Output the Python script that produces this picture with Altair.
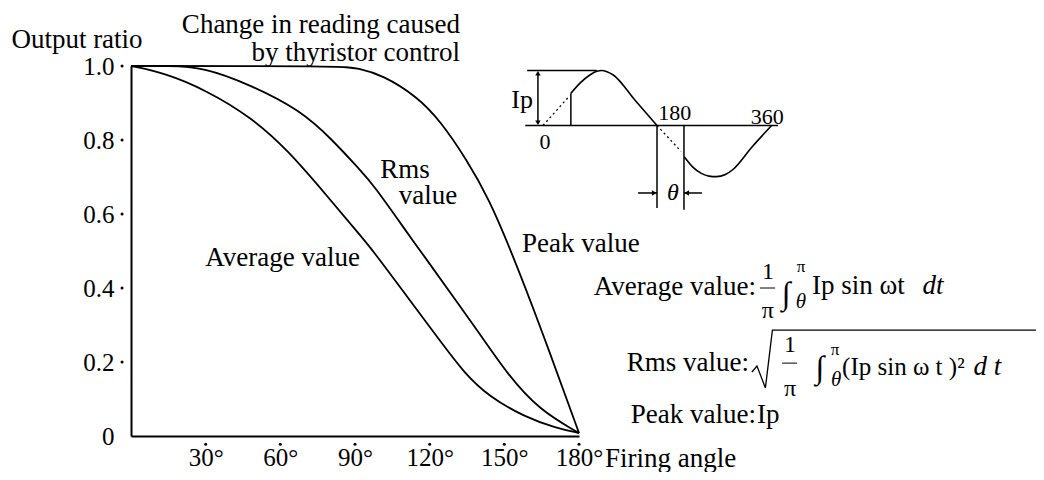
import altair as alt
import pandas as pd

FONT = "Liberation Serif"

# ---- main curves: firing angle (deg) -> output ratio ----
avg_deg = [0, 14, 30, 48, 63, 79, 92, 97, 111, 124, 134, 144, 158, 171, 180]
avg_val = [1.0, 0.98, 0.935, 0.863, 0.773, 0.647, 0.543, 0.503, 0.376, 0.259, 0.169, 0.106, 0.052, 0.021, 0.008]
rms_deg = [0, 15, 29, 48, 68, 81, 92, 97, 113, 116, 140, 151, 164, 180]
rms_val = [1.0, 1.0, 0.997, 0.949, 0.881, 0.80, 0.719, 0.683, 0.53, 0.503, 0.278, 0.169, 0.07, 0.008]
peak_deg = [0, 85, 91, 101, 115, 124, 135, 144, 152, 164, 180]
peak_val = [1.0, 1.0, 0.994, 0.976, 0.917, 0.854, 0.746, 0.638, 0.512, 0.305, 0.008]

x_ticks = [30, 60, 90, 120, 150, 180]
y_ticks = [0, 0.2, 0.4, 0.6, 0.8, 1.0]
y_dot_ticks = [0.2, 0.4, 0.6, 0.8, 1.0]

# ---- inset waveform (degrees, amplitude / Ip) ----
pos_deg = [44, 58, 74, 85, 93, 101, 111, 145, 180]
pos_amp = [0.585, 0.767, 0.918, 0.985, 1.0, 0.978, 0.918, 0.464, 0.0]
neg_deg = [223, 237, 250, 262, 274, 288, 300, 330, 361]
neg_amp = [-0.567, -0.76, -0.87, -0.92, -0.93, -0.89, -0.8, -0.39, 0.0]

curves = pd.concat([
    pd.DataFrame({"x": avg_deg, "y": avg_val, "s": "Average value"}),
    pd.DataFrame({"x": rms_deg, "y": rms_val, "s": "Rms value"}),
    pd.DataFrame({"x": peak_deg, "y": peak_val, "s": "Peak value"}),
])

x_axis = alt.Axis(values=x_ticks, labelExpr="datum.value + '°'", title=None, grid=False,
                  ticks=False, domainColor="black", domainWidth=2, labelFont=FONT,
                  labelFontSize=25, labelColor="black", labelPadding=9, labelFlush=False)
y_axis = alt.Axis(values=y_ticks,
                  labelExpr="datum.value == 0 ? '0' : format(datum.value, '.1f')",
                  title=None, grid=False, ticks=False, domainColor="black", domainWidth=2,
                  labelFont=FONT, labelFontSize=25, labelColor="black", labelPadding=17,
                  labelFlush=False)

curve_layer = alt.Chart(curves).mark_line(color="black", strokeWidth=1.8, interpolate="basis").encode(
    x=alt.X("x:Q", scale=alt.Scale(domain=[0, 180], nice=False, zero=False), axis=x_axis),
    y=alt.Y("y:Q", scale=alt.Scale(domain=[0, 1], nice=False, zero=False), axis=y_axis),
    detail="s:N",
)

xdots = alt.Chart(pd.DataFrame({"x": x_ticks, "y": [-0.022] * len(x_ticks)})).mark_point(
    filled=True, color="black", size=9, opacity=1).encode(x="x:Q", y="y:Q")
ydots = alt.Chart(pd.DataFrame({"x": [-3.6] * len(y_dot_ticks), "y": y_dot_ticks})).mark_point(
    filled=True, color="black", size=9, opacity=1).encode(x="x:Q", y="y:Q")


def txt(rows, size, align="center", style="normal"):
    df = pd.DataFrame(rows, columns=["x", "y", "t"])
    return alt.Chart(df).mark_text(font=FONT, fontSize=size, align=align, baseline="middle",
                                   fontStyle=style, color="black").encode(
        x="x:Q", y="y:Q", text="t:N")


t_center = txt([(-21.7, 1.07, "Output ratio"), (110.1, 0.719, "Rms"),
                (119.3, 0.649, "value"), (60.9, 0.481, "Average value")], 27)
t_right = txt([(132.2, 1.112, "Change in reading caused"), (132.2, 1.036, "by thyristor control"),
               (251.1, 0.403, "Average value:"), (248.3, 0.197, "Rms value:"),
               (251.1, 0.057, "Peak value:")], 27, "right")
t_left = txt([(157.1, 0.519, "Peak value"), (190.4, -0.062, "Firing angle"),
              (251.5, 0.057, "Ip"), (273.6, 0.405, "Ip sin ωt")], 27, "left")
t_left2 = txt([(285.7, 0.186, "(Ip sin ω t )²")], 25, "left")
t_ital = txt([(318.0, 0.405, "dt"), (338.5, 0.186, "d t")], 27, "left", "italic")
t_frac = txt([(255.9, 0.443, "1"), (255.9, 0.338, "π"), (264.8, 0.246, "1"),
              (264.8, 0.127, "π")], 24)
t_int = txt([(263.2, 0.384, "∫"), (276.8, 0.184, "∫")], 32)
t_sup = txt([(269.2, 0.457, "π"), (282.9, 0.232, "π")], 17)
t_sub = txt([(269.2, 0.362, "θ"), (283.3, 0.151, "θ")], 21, "center", "italic")

frac_bars = alt.Chart(pd.DataFrame({"x": [252.7, 261.6], "x2": [258.8, 267.6], "y": [0.4, 0.197]})).mark_rule(
    color="black", strokeWidth=1).encode(x="x:Q", x2="x2:Q", y="y:Q")

sqrt_df = pd.DataFrame({"x": [249.5, 251.5, 254.9, 257.7, 363.6],
                        "y": [0.173, 0.189, 0.130, 0.286, 0.286], "o": [0, 1, 2, 3, 4]})
sqrt_line = alt.Chart(sqrt_df).mark_line(color="black", strokeWidth=1.3).encode(
    x="x:Q", y="y:Q", order="o:Q")

main = alt.layer(curve_layer, xdots, ydots, t_center, t_right, t_left, t_left2, t_ital,
                 t_frac, t_int, t_sup, t_sub, frac_bars, sqrt_line)

# ---- inset with its own scales ----
IX = alt.Scale(domain=[0, 360], range=[412, 640], nice=False, zero=False)
IY = alt.Scale(domain=[-1, 1], range=[114.5, 4.5], nice=False, zero=False)


def ix(f="x"):
    return alt.X(f + ":Q", scale=IX, axis=None)


def iy(f="y"):
    return alt.Y(f + ":Q", scale=IY, axis=None)


wave = pd.concat([
    pd.DataFrame({"x": pos_deg, "y": pos_amp, "s": "pos"}),
    pd.DataFrame({"x": neg_deg, "y": neg_amp, "s": "neg"}),
])
wave_layer = alt.Chart(wave).mark_line(color="black", strokeWidth=1.6, interpolate="monotone").encode(
    x=ix(), y=iy(), detail="s:N")

segs = pd.DataFrame({
    "x": [-28, -25, -8, 44, 180, 222.6, 150, 222.6],
    "x2": [371, 85, -8, 44, 180, 222.6, 180, 251],
    "y": [0, 1, 0.04, 0, 0, 0, -1.227, -1.227],
    "y2": [0, 1, 0.96, 0.585, -1.5, -1.53, -1.227, -1.227],
})
seg_layer = alt.Chart(segs).mark_rule(color="black", strokeWidth=1.5).encode(
    x=ix(), x2="x2:Q", y=iy(), y2="y2:Q")

dashes = pd.DataFrame({"x": [0, 180], "x2": [40.5, 218], "y": [0, 0], "y2": [0.52, -0.47]})
dash_layer = alt.Chart(dashes).mark_rule(color="black", strokeWidth=1.3, strokeDash=[2, 3]).encode(
    x=ix(), x2="x2:Q", y=iy(), y2="y2:Q")

heads = pd.DataFrame({"x": [-8, -8, 175.7, 226.9], "y": [0.95, 0.05, -1.227, -1.227],
                      "sh": ["triangle-up", "triangle-down", "triangle-right", "triangle-left"]})
head_layer = alt.Chart(heads).mark_point(filled=True, color="black", size=30, opacity=1).encode(
    x=ix(), y=iy(), shape=alt.Shape("sh:N", scale=None))


def itxt(rows, size, style="normal"):
    df = pd.DataFrame(rows, columns=["x", "y", "t"])
    return alt.Chart(df).mark_text(font=FONT, fontSize=size, align="center", baseline="middle",
                                   fontStyle=style, color="black").encode(
        x=ix(), y=iy(), text="t:N")


i_ip = itxt([(-33, 0.464, "Ip")], 26)
i_nums = itxt([(3, -0.3, "0"), (208, 0.227, "180"), (354, 0.155, "360")], 22)
i_theta = itxt([(205, -1.227, "θ")], 24, "italic")

inset = alt.layer(wave_layer, seg_layer, dash_layer, head_layer, i_ip, i_nums, i_theta)

chart = alt.layer(main, inset).resolve_scale(x="independent", y="independent").properties(
    width=448, height=370,
    padding={"left": 123, "top": 58, "right": 457, "bottom": 36},
    autosize=alt.AutoSizeParams(type="none"),
    background="white",
).configure_view(stroke=None)

chart.save("out.html", embed_options={"renderer": "svg", "actions": False})
